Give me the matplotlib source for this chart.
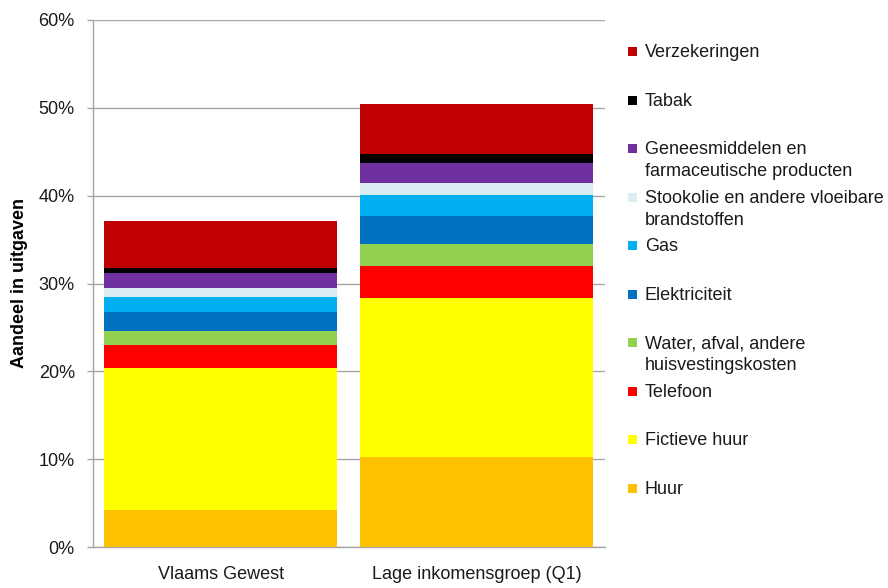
import matplotlib
matplotlib.use("Agg")
import matplotlib.pyplot as plt
from matplotlib.patches import Rectangle
from matplotlib.ticker import FuncFormatter
import numpy as np

plt.rcParams['font.family'] = ['Liberation Sans', 'DejaVu Sans']

categories = ["Vlaams Gewest", "Lage inkomensgroep (Q1)"]

# stacked from bottom to top
series_names = [
    "Huur",
    "Fictieve huur",
    "Telefoon",
    "Water, afval, andere\nhuisvestingskosten",
    "Elektriciteit",
    "Gas",
    "Stookolie en andere vloeibare\nbrandstoffen",
    "Geneesmiddelen en\nfarmaceutische producten",
    "Tabak",
    "Verzekeringen",
]
huur = [4.2, 10.3]
fictieve_huur = [16.2, 18.0]
telefoon = [2.65, 3.7]
water = [1.5, 2.5]
elektriciteit = [2.2, 3.2]
gas = [1.7, 2.4]
stookolie = [1.0, 1.3]
geneesmiddelen = [1.75, 2.3]
tabak = [0.6, 1.0]
verzekeringen = [5.35, 5.7]
series_values = [huur, fictieve_huur, telefoon, water, elektriciteit, gas,
                 stookolie, geneesmiddelen, tabak, verzekeringen]
colors = ["#FFC000", "#FFFF00", "#FF0000", "#92D050", "#0070C0", "#00B0F0",
          "#DAEEF3", "#7030A0", "#000000", "#C00000"]

y_ticks = [0, 10, 20, 30, 40, 50, 60]
y_label = "Aandeel in uitgaven"

W, H = 888, 588
fig = plt.figure(figsize=(W / 100, H / 100), dpi=100)
ax = fig.add_axes([92.7 / W, 41 / H, 512 / W, 527 / H])

x = np.arange(len(categories))
bottom = np.zeros(len(categories))
for vals, col in zip(series_values, colors):
    ax.bar(x, vals, width=0.91, bottom=bottom, color=col, edgecolor='none', zorder=3)
    bottom += np.array(vals)

ax.set_xlim(-0.5, 1.5)
ax.set_ylim(0, 60)
ax.set_yticks(y_ticks)
ax.yaxis.set_major_formatter(FuncFormatter(lambda v, p: f"{int(v)}%"))
ax.set_xticks(x)
ax.set_xticklabels(categories)
grey = "#A6A6A6"
ax.grid(axis='y', color=grey, linewidth=1, zorder=0)
for s in ['top', 'right']:
    ax.spines[s].set_visible(False)
for s in ['left', 'bottom']:
    ax.spines[s].set_color(grey)
    ax.spines[s].set_linewidth(1)
ax.tick_params(axis='y', length=4.3, width=1, color=grey, pad=8.6, labelsize=13, labelcolor='#1a1a1a')
ax.tick_params(axis='x', length=0, pad=14, labelsize=13, labelcolor='#1a1a1a')
ax.set_ylabel(y_label, fontsize=13, fontweight='bold')
ax.yaxis.set_label_coords(-(92.7 - 19) / 512, 0.5, transform=ax.transAxes)
ax.yaxis.label.set_verticalalignment('center')

# manual legend (reverse order, as in the reference)
for i, (name, col) in enumerate(zip(series_names[::-1], colors[::-1])):
    yc = 51.7 + 48.5 * i
    fig.add_artist(Rectangle((628 / W, 1 - (yc + 4.5) / H), 9 / W, 9 / H,
                             transform=fig.transFigure, facecolor=col, edgecolor='none'))
    for j, line in enumerate(name.split("\n")):
        fig.text(645 / W, 1 - (yc + 1 + 22 * j) / H, line, fontsize=13,
                 va='center', ha='left', color='#1a1a1a')

fig.savefig("out.png", dpi=100)
